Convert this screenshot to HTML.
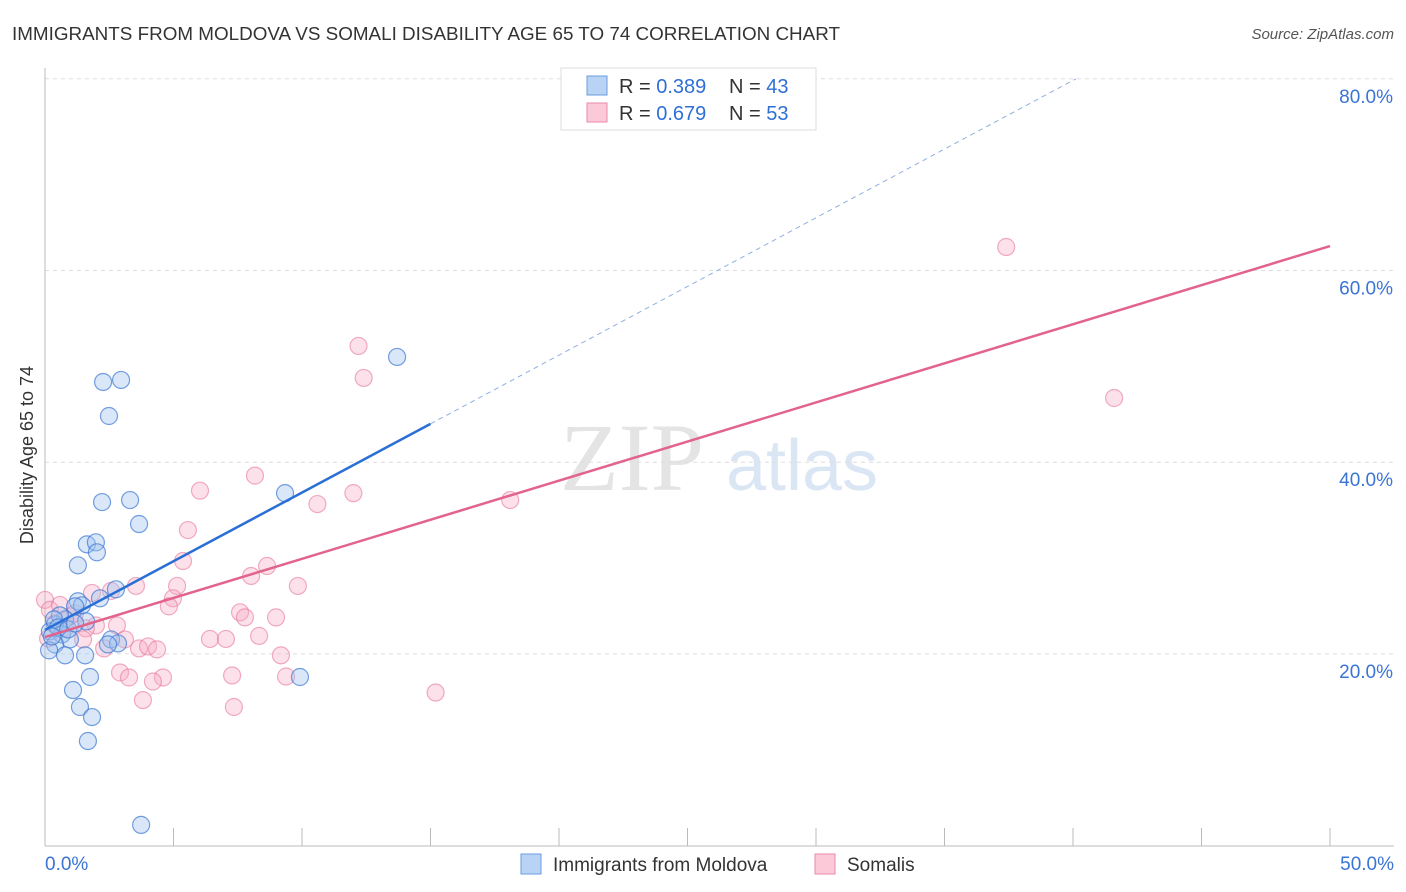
<!DOCTYPE html>
<html><head><meta charset="utf-8"><style>
body{margin:0;background:#fff;font-family:"Liberation Sans",sans-serif}
svg{display:block}
</style></head><body>
<svg id="chart" width="1406" height="892">
<text x="12" y="40" font-size="18" fill="#333" textLength="828" lengthAdjust="spacingAndGlyphs">IMMIGRANTS FROM MOLDOVA VS SOMALI DISABILITY AGE 65 TO 74 CORRELATION CHART</text>
<text x="1394" y="39" font-size="15" fill="#555" text-anchor="end" font-style="italic">Source: ZipAtlas.com</text>
<text x="632" y="490" font-size="96" fill="#e4e4e4" text-anchor="middle" font-family="Liberation Serif,serif">ZIP</text>
<text x="802" y="490" font-size="72" fill="#dbe6f5" text-anchor="middle">atlas</text>
<text transform="translate(33,455) rotate(-90)" font-size="18" fill="#333" text-anchor="middle">Disability Age 65 to 74</text>
<g id="grid"></g><g id="marks"></g><g id="lines"></g>
<g>
<rect x="561" y="68" width="255" height="62" fill="#fff" stroke="#ddd"/>
<rect x="587" y="76" width="20" height="19" fill="#b9d3f5" stroke="#6a9be0"/>
<rect x="587" y="103" width="20" height="19" fill="#fbc9d8" stroke="#e88aa8"/>
<text x="619" y="93" font-size="20" fill="#333">R = <tspan fill="#2f6fd6">0.389</tspan></text>
<text x="729" y="93" font-size="20" fill="#333">N = <tspan fill="#2f6fd6">43</tspan></text>
<text x="619" y="120" font-size="20" fill="#333">R = <tspan fill="#2f6fd6">0.679</tspan></text>
<text x="729" y="120" font-size="20" fill="#333">N = <tspan fill="#2f6fd6">53</tspan></text>
</g>
<g>
<rect x="521" y="854" width="20" height="20" fill="#b9d3f5" stroke="#6a9be0"/>
<text x="553" y="871" font-size="19" fill="#333">Immigrants from Moldova</text>
<rect x="815" y="854" width="20" height="20" fill="#fbc9d8" stroke="#e88aa8"/>
<text x="847" y="871" font-size="19" fill="#333">Somalis</text>
</g>
</svg>
<script>
const yTicks=[20,40,60,80];
const xTickLabels=["0.0%","50.0%"];
const moldovaX=[13.7,2.26,2.96,2.49,2.22,3.31,3.66,9.34,1.63,1.98,2.02,1.28,2.76,2.14,1.28,1.44,1.17,1.6,0.78,0.39,0.19,0.66,0.97,0.39,0.16,1.56,0.78,2.57,2.84,2.45,9.92,1.75,1.09,1.36,1.83,1.67,3.74,0.58,0.35,0.51,0.9,1.17,0.27];
const moldovaY=[50.98,48.37,48.58,44.82,35.84,36.05,33.55,36.77,31.43,31.64,30.6,29.24,26.74,25.8,25.49,25.07,24.96,23.39,23.6,23.08,22.35,22.03,21.51,20.99,20.37,19.85,19.85,21.51,21.09,20.99,17.59,17.59,16.23,14.46,13.41,10.91,2.16,24.02,23.6,22.76,22.55,23.18,21.82];
const somaliX=[37.4,41.6,12.2,12.4,8.17,6.03,12.0,10.6,18.1,5.56,5.37,8.64,8.02,3.54,5.14,9.84,2.57,1.83,4.98,4.82,7.59,7.78,8.99,2.8,1.98,1.59,3.11,6.42,7.04,8.33,1.48,2.3,3.66,4.01,4.36,9.18,2.92,7.28,3.27,4.59,4.2,9.38,15.2,3.81,7.35,0,0.19,0.58,0.39,0.97,0.12,0.78,1.17];
const somaliY=[62.45,46.7,52.13,48.79,38.6,37.03,36.77,35.63,36.05,32.92,29.69,29.17,28.13,27.09,27.09,27.09,26.57,26.36,25.8,24.96,24.34,23.81,23.81,22.97,22.97,22.66,21.51,21.56,21.56,21.88,21.51,20.57,20.57,20.78,20.47,19.85,18.06,17.75,17.54,17.54,17.12,17.64,15.97,15.18,14.46,25.63,24.59,25.11,23.18,23.91,21.61,22.66,24.23];
const moldovaFit=[22.5,44.0];
const somaliFit=[21.76,62.55];
const X0=45,X1=1330,Y0=845.6,YP=9.585;
const sx=v=>X0+(v/50)*(X1-X0), sy=v=>Y0-v*YP;
const NS="http://www.w3.org/2000/svg";
function mk(tag,attrs,parent){const e=document.createElementNS(NS,tag);for(const k in attrs)e.setAttribute(k,attrs[k]);parent.appendChild(e);return e;}
const grid=document.getElementById('grid'),marks=document.getElementById('marks'),lines=document.getElementById('lines');
yTicks.forEach(t=>{
 const l=mk('line',{x1:45,x2:1394,y1:sy(t),y2:sy(t),stroke:'#ddd','stroke-dasharray':'4,4'},grid);
 
 
 const tx=mk('text',{x:1393,y:sy(t)+24,'font-size':19,fill:'#3a74d4','text-anchor':'end'},grid);
 tx.textContent=t+'.0%';
 
 
});
const ax=mk('line',{x1:45,x2:45,y1:68,y2:846,stroke:'#bbb'},grid);


const bx=mk('line',{x1:45,x2:1394,y1:846,y2:846,stroke:'#bbb'},grid);


for(let i=0;i<=10;i++){const t=mk('line',{x1:sx(i*5),x2:sx(i*5),y1:828,y2:846,stroke:'#bbb'},grid);
 
 }
xTickLabels.forEach((s,i)=>{const t=mk('text',{x:i?1394:45,y:870,'font-size':19,fill:'#3a74d4','text-anchor':i?'end':'start'},grid);t.textContent=s;
 
 });
somaliX.forEach((v,i)=>{const c=mk('circle',{cx:sx(v),cy:sy(somaliY[i]),r:8.5,fill:'rgba(247,170,195,0.35)',stroke:'rgba(232,120,155,0.6)','stroke-width':1.2},marks);
 
 });
moldovaX.forEach((v,i)=>{const c=mk('circle',{cx:sx(v),cy:sy(moldovaY[i]),r:8.5,fill:'rgba(160,195,240,0.4)',stroke:'rgba(60,120,210,0.7)','stroke-width':1.2},marks);
 
 });
const slope=(moldovaFit[1]-moldovaFit[0])/15;
const b1=mk('line',{x1:sx(0),y1:sy(moldovaFit[0]),x2:sx(15),y2:sy(moldovaFit[1]),stroke:'#2a6fd6','stroke-width':2.5},lines);


const xe=(80-moldovaFit[0])/slope;
const b2=mk('line',{x1:sx(15),y1:sy(moldovaFit[1]),x2:sx(xe),y2:sy(80),stroke:'#8fb0e0','stroke-width':1,'stroke-dasharray':'5,4'},lines);


const p=mk('line',{x1:sx(0),y1:sy(somaliFit[0]),x2:sx(50),y2:sy(somaliFit[1]),stroke:'#e2638c','stroke-width':2.5},lines);


</script>
</body></html>
